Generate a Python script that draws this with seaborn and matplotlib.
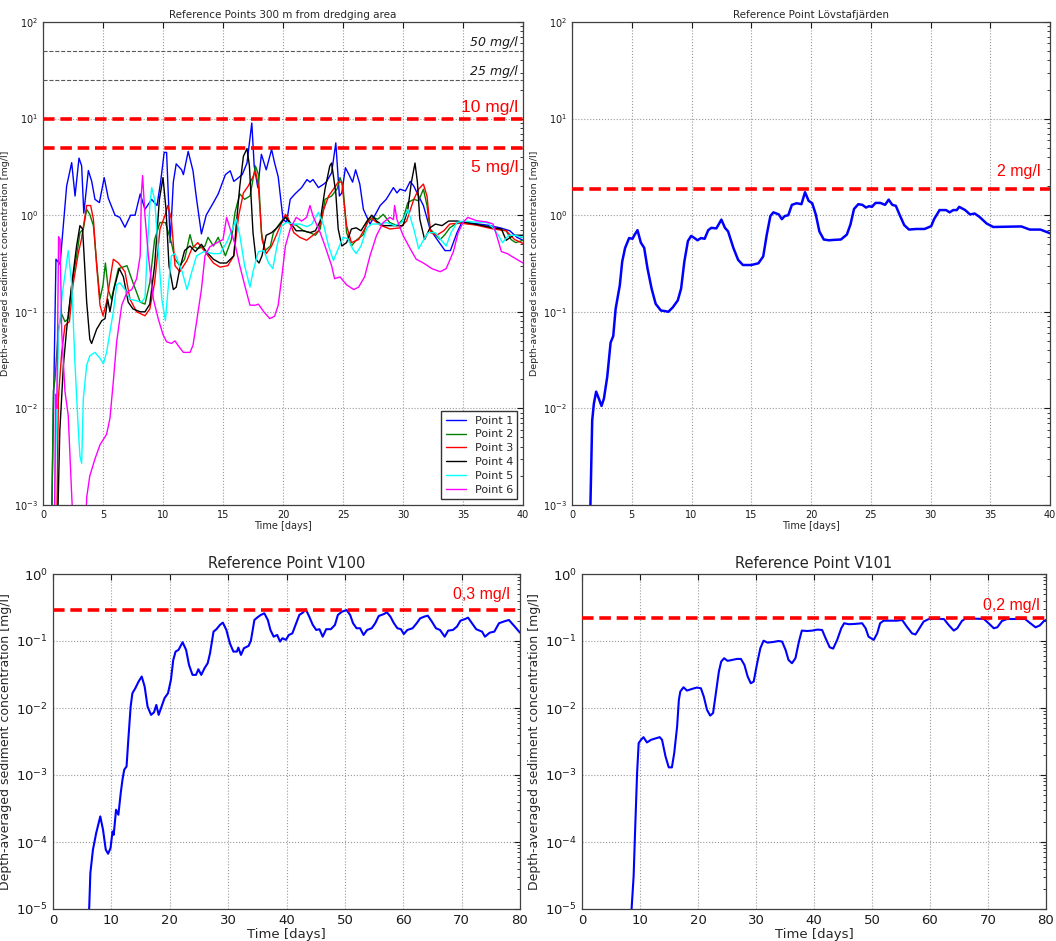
import pandas as pd
import seaborn as sns
import matplotlib.pyplot as plt

sns.set_theme(style="white")
plt.rcParams['font.family'] = ['DejaVu Sans']
plt.rcParams['mathtext.default'] = 'regular'

# --- Reference points 300 m from dredging area (days, mg/l) ---
p1_t = [0.7, 1.08, 1.42, 1.97, 2.39, 2.67, 3.0, 3.22, 3.4, 3.78, 4.06, 4.33, 4.7, 5.1, 5.44, 6.0, 6.4, 6.83, 7.3, 7.67,
        8.1, 8.5, 9.05, 9.5, 9.8, 10.1, 10.3, 10.6, 10.86, 11.1, 11.55, 11.7, 12.1, 12.5, 12.8, 13.2, 13.6, 14.2, 14.6,
        15.2, 15.6, 15.9, 16.1, 16.6, 17.0, 17.4, 17.6, 17.9, 18.2, 18.6, 19.05, 19.3, 19.6, 20.0, 20.3, 20.6, 21.0,
        21.55, 22.0, 22.25, 22.5, 22.95, 23.4, 23.6, 24.05, 24.4, 24.7, 24.9, 25.2, 25.5, 25.8, 26.05, 26.4, 26.7,
        27.25, 27.7, 28.1, 28.6, 29.2, 29.5, 29.75, 30.2, 30.6, 30.9, 31.3, 31.7, 32.25, 32.8, 33.5, 33.95, 34.5, 34.9,
        35.6, 37.0, 38.1, 38.9, 39.5, 40.0]
p1_v = [0.0005, 0.35, 0.31, 2.0, 3.5, 1.58, 3.9, 3.24, 1.05, 2.9, 2.24, 1.46, 1.35, 2.45, 1.5, 1.0, 0.95, 0.75, 1.0, 1.0,
        1.66, 1.15, 1.46, 1.26, 2.2, 4.47, 4.47, 0.52, 2.2, 3.4, 2.95, 2.63, 4.57, 2.88, 1.46, 0.64, 1.0, 1.35, 1.66,
        2.63, 2.88, 2.24, 2.34, 2.63, 3.47, 9.0, 3.24, 1.93, 4.27, 2.95, 4.8, 3.47, 2.5, 0.91, 0.84, 1.46, 1.66, 1.93,
        2.34, 2.2, 2.34, 1.93, 2.1, 2.2, 2.75, 5.6, 1.58, 1.7, 3.1, 2.63, 2.2, 2.95, 2.1, 1.15, 0.81, 1.02, 1.26, 1.46,
        1.93, 1.7, 1.86, 1.78, 2.24, 2.0, 1.58, 1.26, 0.72, 0.57, 0.43, 0.43, 0.66, 0.84, 0.83, 0.79, 0.74, 0.69,
        0.59, 0.55]

p2_t = [0.72, 0.86, 1.0, 1.28, 1.56, 1.83, 2.1, 2.4, 2.8, 3.08, 3.36, 3.64, 3.9, 4.2, 4.47, 4.75, 5.0, 5.2, 5.44, 5.7,
        6.28, 7.0, 7.5, 8.1, 8.5, 8.9, 9.3, 9.75, 10.2, 10.7, 11.0, 11.4, 11.8, 12.25, 12.5, 12.9, 13.5, 13.75, 14.2,
        14.6, 15.2, 15.7, 16.0, 16.4, 16.8, 17.25, 17.7, 17.95, 18.2, 18.5, 18.95, 19.2, 19.6, 20.2, 20.6, 21.1, 21.7,
        22.25, 22.7, 23.1, 23.5, 24.05, 24.5, 24.75, 25.0, 25.3, 25.7, 26.1, 26.7, 27.0, 27.5, 27.9, 28.35, 28.9, 29.5,
        30.0, 30.4, 30.9, 31.3, 31.7, 32.0, 32.25, 32.7, 33.1, 33.5, 33.9, 34.5, 35.0, 36.4, 37.5, 38.6, 39.0, 39.4,
        40.0]
p2_v = [0.0005, 0.015, 0.02, 0.066, 0.095, 0.079, 0.085, 0.19, 0.38, 0.66, 0.72, 1.15, 1.02, 0.78, 0.32, 0.135, 0.19,
        0.32, 0.17, 0.135, 0.28, 0.30, 0.20, 0.126, 0.12, 0.2, 0.56, 0.84, 0.84, 0.52, 0.35, 0.30, 0.35, 0.63, 0.48,
        0.45, 0.48, 0.59, 0.48, 0.59, 0.38, 0.56, 1.07, 1.66, 1.46, 1.58, 3.24, 2.63, 0.66, 0.43, 0.48, 0.66, 0.78,
        0.98, 0.81, 0.79, 0.69, 0.66, 0.62, 0.72, 1.46, 1.58, 1.86, 2.45, 2.0, 0.66, 0.48, 0.55, 0.63, 0.84, 0.95,
        0.91, 1.02, 0.84, 0.78, 0.91, 1.35, 1.46, 1.41, 1.86, 1.26, 0.72, 0.63, 0.56, 0.63, 0.74, 0.83, 0.83, 0.79,
        0.74, 0.69, 0.56, 0.52, 0.55]

p3_t = [1.14, 1.28, 1.56, 1.83, 2.2, 2.5, 2.95, 3.2, 3.64, 3.97, 4.2, 4.47, 4.75, 5.0, 5.3, 5.6, 5.86, 6.28, 6.83, 7.25,
        7.8, 8.5, 8.9, 9.3, 9.75, 10.2, 10.4, 10.7, 11.0, 11.4, 12.0, 12.4, 12.9, 13.5, 14.2, 14.75, 15.4, 15.9, 16.3,
        16.7, 17.1, 17.5, 17.7, 17.95, 18.25, 18.6, 19.05, 19.6, 20.2, 20.4, 20.9, 21.4, 21.97, 22.5, 22.95, 23.4,
        23.8, 24.2, 24.6, 24.9, 25.3, 25.7, 26.3, 26.8, 27.25, 28.1, 28.9, 29.75, 30.3, 30.9, 31.3, 31.7, 32.0, 32.3,
        32.8, 33.4, 33.9, 34.75, 36.1, 37.5, 38.6, 39.3, 40.0]
p3_v = [0.0005, 0.0126, 0.038, 0.072, 0.079, 0.19, 0.41, 0.56, 1.26, 1.26, 0.91, 0.30, 0.117, 0.091, 0.126, 0.22,
        0.35, 0.32, 0.26, 0.135, 0.1, 0.091, 0.107, 0.2, 0.72, 1.02, 1.26, 0.91, 0.30, 0.26, 0.34, 0.45, 0.52, 0.42,
        0.32, 0.29, 0.30, 0.38, 0.98, 1.7, 2.0, 2.5, 2.88, 2.0, 0.56, 0.40, 0.48, 0.69, 1.02, 0.95, 0.66, 0.59, 0.55,
        0.62, 0.69, 1.15, 1.58, 1.86, 2.2, 2.2, 0.78, 0.52, 0.56, 0.72, 0.95, 0.79, 0.72, 0.74, 0.87, 1.46, 1.86, 2.1,
        1.58, 0.66, 0.62, 0.69, 0.81, 0.83, 0.79, 0.72, 0.69, 0.56, 0.51]

p4_t = [1.2, 1.4, 1.7, 1.97, 2.39, 2.8, 3.08, 3.3, 3.5, 3.64, 3.9, 4.05, 4.47, 4.9, 5.17, 5.39, 5.58, 5.9, 6.36, 6.7,
        7.1, 7.5, 8.1, 8.5, 8.9, 9.3, 9.7, 10.0, 10.25, 10.5, 10.86, 11.1, 11.4, 11.8, 12.25, 12.7, 13.2, 13.6, 14.2,
        14.75, 15.3, 15.9, 16.1, 16.4, 16.7, 17.0, 17.2, 17.5, 17.75, 18.0, 18.25, 18.6, 19.05, 19.5, 20.2, 20.6,
        21.1, 21.7, 22.25, 22.7, 23.1, 23.5, 23.9, 24.05, 24.4, 24.6, 24.9, 25.3, 25.7, 26.1, 26.5, 27.0, 27.4, 27.8,
        28.35, 29.2, 30.0, 30.4, 30.7, 31.0, 31.2, 31.4, 31.8, 32.25, 32.7, 33.25, 33.8, 34.5, 35.3, 36.4, 37.5, 38.2,
        38.6, 39.2, 40.0]
p4_v = [0.0005, 0.0058, 0.028, 0.066, 0.19, 0.48, 0.78, 0.72, 0.26, 0.126, 0.052, 0.047, 0.066, 0.081, 0.085, 0.135,
        0.1, 0.17, 0.28, 0.23, 0.126, 0.107, 0.1, 0.1, 0.12, 0.30, 1.46, 2.45, 1.15, 0.30, 0.17, 0.18, 0.28, 0.43,
        0.48, 0.42, 0.5, 0.42, 0.35, 0.32, 0.32, 0.38, 0.78, 2.0, 4.07, 4.9, 3.24, 0.66, 0.35, 0.32, 0.38, 0.62, 0.66,
        0.74, 0.95, 0.84, 0.69, 0.69, 0.66, 0.69, 0.87, 1.86, 3.24, 3.47, 1.7, 0.72, 0.48, 0.52, 0.72, 0.74, 0.69,
        0.87, 1.0, 0.87, 0.78, 0.78, 0.78, 1.15, 2.2, 3.47, 2.2, 0.91, 0.56, 0.74, 0.81, 0.78, 0.87, 0.87, 0.84, 0.79,
        0.74, 0.72, 0.55, 0.62, 0.62]

p5_t = [0.9, 1.3, 1.6, 2.1, 2.4, 2.67, 2.95, 3.08, 3.22, 3.36, 3.64, 3.9, 4.33, 4.75, 5.03, 5.3, 5.58, 5.86, 6.14, 6.4,
        6.83, 7.25, 7.8, 8.2, 8.5, 8.7, 8.9, 9.06, 9.3, 9.6, 9.9, 10.2, 10.4, 10.7, 11.0, 11.3, 11.6, 12.0, 12.4, 12.8,
        13.4, 14.2, 14.75, 15.3, 15.9, 16.1, 16.4, 16.8, 17.25, 17.5, 17.95, 18.4, 18.8, 19.15, 19.5, 19.9, 20.3, 20.9,
        21.4, 22.0, 22.4, 22.95, 23.4, 23.8, 24.2, 24.6, 25.0, 25.4, 25.8, 26.1, 26.5, 27.0, 27.4, 28.1, 28.6, 29.3,
        29.9, 30.4, 30.9, 31.3, 31.7, 32.1, 32.7, 33.2, 33.6, 34.0, 34.5, 35.0, 35.9, 37.0, 37.5, 37.95, 38.3, 38.8,
        39.3, 40.0]
p5_v = [0.0005, 0.06, 0.15, 0.43, 0.19, 0.028, 0.0058, 0.0032, 0.0027, 0.0126, 0.028, 0.035, 0.038, 0.033, 0.029,
        0.038, 0.062, 0.1, 0.19, 0.2, 0.17, 0.135, 0.13, 0.126, 0.14, 0.45, 1.26, 1.93, 1.46, 0.45, 0.135, 0.081, 0.16,
        0.38, 0.40, 0.32, 0.26, 0.17, 0.26, 0.38, 0.42, 0.40, 0.40, 0.52, 0.78, 0.91, 0.62, 0.30, 0.18, 0.26, 0.42,
        0.43, 0.32, 0.28, 0.48, 0.78, 0.84, 0.81, 0.81, 0.76, 0.81, 1.07, 0.78, 0.48, 0.34, 0.45, 0.59, 0.57, 0.45,
        0.40, 0.48, 0.74, 0.81, 0.81, 0.84, 0.78, 0.84, 1.15, 0.72, 0.45, 0.55, 0.66, 0.66, 0.55, 0.48, 0.66, 0.84,
        0.87, 0.85, 0.84, 0.74, 0.62, 0.52, 0.62, 0.62, 0.59]

p6_t = [0.95, 1.05, 1.15, 1.3, 1.42, 1.56, 1.83, 2.1, 2.4, 2.55, 3.55, 3.64, 3.9, 4.33, 4.75, 5.3, 5.58, 5.86, 6.14,
        6.56, 7.0, 7.4, 7.8, 8.1, 8.2, 8.3, 8.5, 8.78, 9.2, 9.6, 10.0, 10.3, 10.7, 11.0, 11.3, 11.7, 12.25, 12.5, 12.8,
        13.2, 13.5, 13.9, 14.5, 15.0, 15.3, 15.6, 16.0, 16.4, 16.8, 17.25, 17.7, 17.95, 18.4, 18.9, 19.3, 19.6, 19.9,
        20.2, 20.6, 21.1, 21.55, 21.97, 22.25, 22.5, 23.1, 23.5, 24.05, 24.3, 24.75, 25.3, 25.9, 26.3, 26.8, 27.25,
        27.8, 28.35, 28.9, 29.2, 29.3, 29.5, 30.0, 30.6, 31.1, 31.7, 32.4, 33.1, 33.6, 34.2, 34.6, 35.0, 35.4, 36.1,
        37.0, 37.5, 37.8, 38.2, 38.7, 39.3, 40.0]
p6_v = [0.0005, 0.014, 0.01, 0.6, 0.56, 0.062, 0.015, 0.0085, 0.0012, 0.0005, 0.0005, 0.0012, 0.002, 0.003, 0.0042,
        0.0054, 0.0079, 0.019, 0.049, 0.117, 0.16, 0.17, 0.22, 0.38, 1.7, 2.57, 0.98, 0.38, 0.135, 0.085, 0.058, 0.049,
        0.047, 0.05, 0.044, 0.038, 0.038, 0.045, 0.079, 0.17, 0.38, 0.47, 0.52, 0.56, 0.95, 0.72, 0.5, 0.30, 0.19,
        0.117, 0.117, 0.12, 0.1, 0.085, 0.09, 0.117, 0.23, 0.48, 0.72, 0.95, 0.87, 0.95, 1.26, 0.98, 0.66, 0.48, 0.30,
        0.22, 0.23, 0.19, 0.17, 0.18, 0.23, 0.38, 0.62, 0.84, 0.95, 0.9, 1.26, 0.9, 0.62, 0.45, 0.35, 0.32, 0.28, 0.26,
        0.28, 0.42, 0.66, 0.84, 0.95, 0.88, 0.85, 0.81, 0.62, 0.42, 0.40, 0.36, 0.32]

point_names = ["Point 1", "Point 2", "Point 3", "Point 4", "Point 5", "Point 6"]
point_colors = ["#0000ff", "#008000", "#ff0000", "#000000", "#00ffff", "#ff00ff"]

# --- Lövstafjärden ---
lov_t = [1.49, 1.69, 1.83, 2.02, 2.25, 2.47, 2.67, 2.95, 3.23, 3.45, 3.65, 3.85, 4.0, 4.2, 4.44, 4.78, 5.06, 5.25,
         5.48, 5.76, 6.04, 6.32, 6.66, 7.0, 7.44, 7.72, 8.06, 8.43, 8.85, 9.13, 9.4, 9.7, 9.97, 10.25, 10.5, 10.8,
         11.1, 11.4, 11.66, 12.08, 12.5, 12.8, 13.06, 13.5, 13.9, 14.3, 15.0, 15.6, 16.0, 16.3, 16.6, 16.85, 17.3,
         17.56, 17.8, 18.1, 18.4, 18.8, 19.2, 19.5, 19.8, 20.1, 20.4, 20.7, 21.07, 21.5, 21.9, 22.5, 23.0, 23.3, 23.6,
         23.96, 24.3, 24.6, 24.86, 25.1, 25.4, 25.8, 26.2, 26.5, 26.8, 27.1, 27.4, 27.8, 28.2, 28.8, 29.5, 30.06, 30.3,
         30.76, 31.3, 31.6, 31.9, 32.2, 32.4, 32.9, 33.3, 33.7, 34.1, 34.7, 35.25, 36.4, 37.6, 38.3, 39.2, 40.0]
lov_v = [0.0005, 0.0075, 0.0112, 0.0149, 0.0126, 0.0106, 0.0126, 0.0213, 0.048, 0.056, 0.107, 0.148, 0.188, 0.33,
         0.457, 0.58, 0.57, 0.63, 0.70, 0.52, 0.46, 0.28, 0.174, 0.121, 0.103, 0.102, 0.1, 0.111, 0.131, 0.174, 0.33,
         0.54, 0.61, 0.58, 0.55, 0.58, 0.57, 0.70, 0.74, 0.73, 0.9, 0.74, 0.68, 0.46, 0.345, 0.305, 0.305, 0.318,
         0.374, 0.63, 0.98, 1.07, 1.02, 0.91, 0.98, 1.0, 1.28, 1.33, 1.3, 1.73, 1.41, 1.33, 1.02, 0.68, 0.56, 0.55,
         0.555, 0.56, 0.63, 0.80, 1.16, 1.3, 1.28, 1.2, 1.24, 1.22, 1.34, 1.34, 1.28, 1.45, 1.28, 1.25, 1.02, 0.79,
         0.71, 0.72, 0.72, 0.77, 0.91, 1.13, 1.13, 1.07, 1.13, 1.13, 1.22, 1.13, 1.02, 1.04, 0.96, 0.82, 0.755, 0.76,
         0.765, 0.71, 0.71, 0.65]

# --- V100 ---
v100_t = [6.08, 6.4, 6.84, 7.4, 8.1, 8.57, 9.04, 9.44, 9.85, 10.2, 10.4, 10.8, 11.2, 11.6, 11.9, 12.2, 12.6, 12.9,
          13.3, 13.6, 14.1, 14.66, 15.2, 15.7, 16.2, 16.8, 17.3, 17.7, 18.1, 18.6, 19.1, 19.7, 20.2, 20.6, 21.0, 21.5,
          22.2, 22.8, 23.3, 23.9, 24.5, 24.9, 25.4, 25.95, 26.5, 26.9, 27.5, 28.0, 28.6, 29.1, 29.7, 30.3, 30.9, 31.5,
          31.75, 32.2, 32.7, 33.5, 33.9, 34.5, 35.05, 35.6, 36.2, 36.8, 37.25, 37.8, 38.4, 38.9, 39.3, 39.9, 40.4,
          41.0, 41.6, 42.2, 42.8, 43.3, 43.9, 44.5, 45.1, 45.65, 46.2, 46.8, 47.6, 48.3, 48.8, 49.5, 50.3, 50.9, 51.4,
          52.0, 52.6, 53.2, 53.8, 54.6, 55.2, 55.8, 56.7, 57.2, 57.8, 58.4, 59.0, 59.6, 60.1, 60.7, 61.6, 62.3, 62.9,
          63.6, 64.2, 64.9, 65.6, 66.3, 67.1, 67.7, 68.5, 69.2, 69.8, 70.6, 71.1, 71.7, 72.5, 73.5, 74.0, 74.8, 75.6,
          76.4, 77.2, 78.1, 79.0, 80.0]
v100_v = [5e-6, 3.44e-5, 7.67e-5, 1.36e-4, 2.41e-4, 1.52e-4, 7.67e-5, 6.68e-5, 8.1e-5, 1.44e-4, 1.28e-4, 3.03e-4,
          2.55e-4, 5.37e-4, 8.5e-4, 1.2e-3, 1.34e-3, 3.35e-3, 0.0105, 0.0166, 0.0197, 0.0248, 0.0295, 0.0209, 0.0105,
          0.0079, 0.0086, 0.0111, 0.0079, 0.0105, 0.014, 0.0166, 0.0263, 0.052, 0.0695, 0.0736, 0.0958, 0.0736, 0.044,
          0.0312, 0.0312, 0.0379, 0.0312, 0.0392, 0.0466, 0.0656, 0.138, 0.15, 0.174, 0.188, 0.146, 0.0925, 0.0695,
          0.0695, 0.0797, 0.062, 0.078, 0.0844, 0.101, 0.206, 0.226, 0.245, 0.259, 0.206, 0.146, 0.116, 0.123, 0.098,
          0.11, 0.104, 0.123, 0.13, 0.178, 0.245, 0.265, 0.297, 0.231, 0.174, 0.146, 0.15, 0.116, 0.15, 0.15, 0.174,
          0.245, 0.274, 0.29, 0.245, 0.184, 0.155, 0.155, 0.123, 0.146, 0.155, 0.184, 0.236, 0.253, 0.268, 0.231,
          0.184, 0.155, 0.15, 0.127, 0.146, 0.155, 0.184, 0.218, 0.231, 0.239, 0.195, 0.155, 0.146, 0.116, 0.143,
          0.146, 0.164, 0.201, 0.213, 0.223, 0.188, 0.15, 0.138, 0.116, 0.133, 0.138, 0.184, 0.195, 0.206, 0.168,
          0.133]

# --- V101 ---
v101_t = [8.33, 8.9, 9.2, 9.5, 9.77, 10.17, 10.6, 11.2, 11.9, 12.6, 13.4, 13.8, 14.4, 14.96, 15.5, 15.9, 16.4, 16.7,
          16.95, 17.5, 18.1, 19.0, 19.8, 20.5, 21.0, 21.55, 22.1, 22.6, 23.0, 23.6, 24.0, 24.5, 25.1, 25.9, 26.7, 27.4,
          28.0, 28.56, 29.1, 29.6, 30.2, 30.75, 31.3, 32.0, 33.0, 33.9, 34.5, 35.1, 35.6, 36.2, 36.8, 37.4, 37.9, 38.8,
          39.7, 40.6, 41.4, 42.0, 42.7, 43.3, 44.0, 44.7, 45.2, 46.0, 47.1, 48.3, 48.9, 49.4, 50.3, 50.9, 51.4, 52.0,
          53.2, 54.3, 55.2, 56.0, 56.9, 57.5, 58.0, 58.9, 59.8, 61.2, 62.4, 63.2, 64.1, 64.7, 65.5, 66.1, 67.5, 69.3,
          70.1, 71.0, 71.6, 72.4, 73.3, 75.0, 76.4, 77.3, 78.2, 78.9, 79.7, 80.0]
v101_v = [5e-6, 3.07e-5, 1.91e-4, 1.07e-3, 2.99e-3, 3.35e-3, 3.67e-3, 3.06e-3, 3.35e-3, 3.5e-3, 3.67e-3, 3.35e-3,
          1.89e-3, 1.3e-3, 1.3e-3, 2.12e-3, 5.3e-3, 0.0132, 0.0176, 0.0204, 0.0182, 0.0193, 0.0202, 0.0197, 0.0148,
          0.0094, 0.0077, 0.0084, 0.0148, 0.035, 0.0493, 0.0553, 0.0505, 0.0522, 0.054, 0.054, 0.044, 0.0295, 0.0234,
          0.0248, 0.0466, 0.078, 0.101, 0.0946, 0.0968, 0.1, 0.098, 0.0736, 0.0522, 0.0466, 0.0553, 0.098, 0.143,
          0.141, 0.143, 0.148, 0.146, 0.11, 0.0807, 0.077, 0.104, 0.155, 0.184, 0.178, 0.18, 0.184, 0.155, 0.116,
          0.104, 0.13, 0.184, 0.201, 0.201, 0.201, 0.206, 0.164, 0.13, 0.125, 0.146, 0.195, 0.213, 0.213, 0.213, 0.174,
          0.143, 0.155, 0.199, 0.216, 0.216, 0.213, 0.184, 0.155, 0.16, 0.199, 0.213, 0.213, 0.213, 0.184, 0.16, 0.17,
          0.201, 0.206]

ylab = "Depth-averaged sediment concentration [mg/l]"


def style_axis(ax, xmax, xstep, ylims, fs):
    ax.set_yscale("log")
    ax.set_xlim(0, xmax)
    ax.set_ylim(*ylims)
    ax.set_xticks(range(0, xmax + 1, xstep))
    ax.grid(True, which="major", linestyle=":", color="0.6", linewidth=0.8)
    ax.tick_params(which="both", direction="in", top=True, right=True, labelsize=fs, colors="0.1")
    ax.tick_params(which="major", length=4, width=0.8)
    ax.tick_params(which="minor", length=2, width=0.6)
    for s in ax.spines.values():
        s.set_color("0.25")
        s.set_linewidth(0.9)


def red_line(ax, y, label, x_lab, y_lab, fs):
    ax.axhline(y, color="red", linestyle="--", dashes=(3.2, 1.6), linewidth=2.6, zorder=3)
    ax.text(x_lab, y_lab, label, color="red", ha="right", va="center", fontsize=fs,
            family="Liberation Sans")


fig = plt.figure(figsize=(10.56, 9.41), dpi=100)
ax1 = fig.add_axes([43 / 1056, 1 - 505 / 941, 480 / 1056, 483 / 941])
ax2 = fig.add_axes([572 / 1056, 1 - 505 / 941, 478 / 1056, 483 / 941])
ax3 = fig.add_axes([53 / 1056, 1 - 909 / 941, 467 / 1056, 335 / 941])
ax4 = fig.add_axes([582 / 1056, 1 - 909 / 941, 464 / 1056, 335 / 941])

# top-left: six points
series = [(p1_t, p1_v), (p2_t, p2_v), (p3_t, p3_v), (p4_t, p4_v), (p5_t, p5_v), (p6_t, p6_v)]
pts = pd.concat([pd.DataFrame({"time": t, "conc": v, "point": n}) for (t, v), n in zip(series, point_names)])
style_axis(ax1, 40, 5, (1e-3, 1e2), 7)
sns.lineplot(data=pts, x="time", y="conc", hue="point", palette=dict(zip(point_names, point_colors)),
             estimator=None, linewidth=1.0, ax=ax1)
for y, lab, ylab_pos in [(50, "50 mg/l", 62), (25, "25 mg/l", 31)]:
    ax1.axhline(y, color="0.35", linestyle="--", linewidth=0.8, zorder=3)
    ax1.text(39.6, ylab_pos, lab, ha="right", va="center", fontsize=9, style="italic", color="0.1")
red_line(ax1, 10, "10 mg/l", 39.6, 13, 12.5)
red_line(ax1, 5, "5 mg/l", 39.6, 3.1, 12.5)
handles, labels = ax1.get_legend_handles_labels()
ax1.legend(handles, labels, loc="lower right", fontsize=8, fancybox=False, edgecolor="0.2",
           handlelength=1.8, borderpad=0.4, labelspacing=0.35, framealpha=1)
ax1.set_title("Reference Points 300 m from dredging area", fontsize=7.5, pad=3)
ax1.set_xlabel("Time [days]", fontsize=7, labelpad=1)
ax1.set_ylabel(ylab, fontsize=6.8, labelpad=3)

# top-right: Lövstafjärden
style_axis(ax2, 40, 5, (1e-3, 1e2), 7)
sns.lineplot(x=lov_t, y=lov_v, color="#0000ff", linewidth=1.8, estimator=None, ax=ax2)
red_line(ax2, 1.88, "2 mg/l", 39.2, 2.85, 11.5)
ax2.set_title("Reference Point Lövstafjärden", fontsize=7.5, pad=3)
ax2.set_xlabel("Time [days]", fontsize=7, labelpad=1)
ax2.set_ylabel(ylab, fontsize=6.8, labelpad=3)

# bottom-left: V100
style_axis(ax3, 80, 10, (1e-5, 1e0), 9.5)
sns.lineplot(x=v100_t, y=v100_v, color="#0000ff", linewidth=1.5, estimator=None, ax=ax3)
red_line(ax3, 0.29, "0,3 mg/l", 78.3, 0.5, 11.5)
ax3.set_title("Reference Point V100", fontsize=10.5, pad=4)
ax3.set_xlabel("Time [days]", fontsize=9.5, labelpad=1)
ax3.set_ylabel(ylab, fontsize=9, labelpad=3)

# bottom-right: V101
style_axis(ax4, 80, 10, (1e-5, 1e0), 9.5)
sns.lineplot(x=v101_t, y=v101_v, color="#0000ff", linewidth=1.5, estimator=None, ax=ax4)
red_line(ax4, 0.218, "0,2 mg/l", 78.9, 0.335, 11.5)
ax4.set_title("Reference Point V101", fontsize=10.5, pad=4)
ax4.set_xlabel("Time [days]", fontsize=9.5, labelpad=1)
ax4.set_ylabel(ylab, fontsize=9, labelpad=3)

fig.savefig("out.png", dpi=100, facecolor="white")
